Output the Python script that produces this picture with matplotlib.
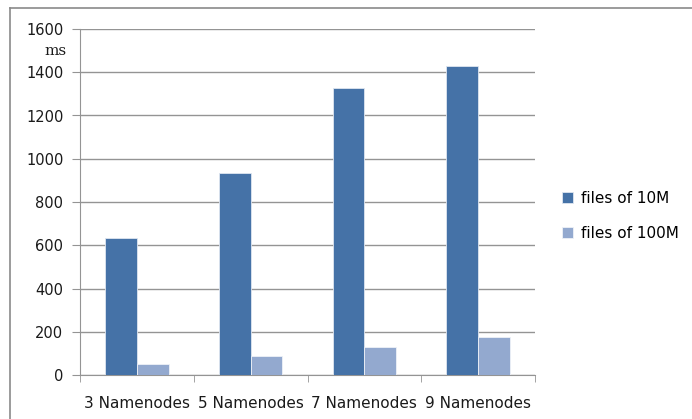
import matplotlib
matplotlib.use('Agg')
import matplotlib.pyplot as plt
import numpy as np
from matplotlib.lines import Line2D

categories = ['3 Namenodes', '5 Namenodes', '7 Namenodes', '9 Namenodes']
files_10m = [635, 935, 1325, 1430]
files_100m = [50, 90, 130, 177]
series_names = ['files of 10M', 'files of 100M']
yticks = [0, 200, 400, 600, 800, 1000, 1200, 1400, 1600]

C_DARK = '#4572A7'
C_LIGHT = '#93A9CF'
GRID = '#949494'

fig = plt.figure(figsize=(6.92, 4.19), dpi=100)
ax = fig.add_axes([80/692, 1-375/419, 455/692, 346/419])

# outer frame (top and left edges visible in the screenshot)
fig.add_artist(Line2D([10/692, 1.0], [1-8/419, 1-8/419], color='#8a8a8a', lw=1.2))
fig.add_artist(Line2D([10/692, 10/692], [0, 1-8/419], color='#8a8a8a', lw=1.2))

x = np.arange(len(categories)) + 0.5
w = 0.28
ax.bar(x - w/2, files_10m, w, color=C_DARK, edgecolor='#dfe6f0', lw=0.6,
       label=series_names[0], zorder=3)
ax.bar(x + w/2, files_100m, w, color=C_LIGHT, edgecolor='#eef1f7', lw=0.6,
       label=series_names[1], zorder=3)

ax.set_xlim(0, len(categories))
ax.set_ylim(0, 1600)
ax.set_yticks(yticks)
ax.yaxis.grid(True, color=GRID, lw=1.0)
ax.set_axisbelow(True)
for s in ['top', 'right']:
    ax.spines[s].set_visible(False)
ax.spines['left'].set_color(GRID)
ax.spines['bottom'].set_color(GRID)

ax.set_xticks(x)
ax.set_xticklabels(categories)
ax.set_xticks(np.arange(len(categories) + 1), minor=True)
ax.tick_params(axis='x', which='major', length=0, pad=15, labelsize=11,
               labelcolor='#1a1a1a')
ax.tick_params(axis='x', which='minor', length=5, color=GRID, direction='out')
ax.tick_params(axis='y', length=6, color=GRID, pad=6, labelsize=10.5,
               labelcolor='#1a1a1a')

ax.text(-0.03, 0.935, 'ms', transform=ax.transAxes, ha='right', va='center',
        fontsize=11, family='DejaVu Serif', color='#1a1a1a')

leg = ax.legend(loc='center left', bbox_to_anchor=(1.03, 0.46), frameon=False,
                fontsize=11, handlelength=0.7, handleheight=0.7,
                handletextpad=0.5, labelspacing=1.3)

fig.savefig('out.png', dpi=100)
